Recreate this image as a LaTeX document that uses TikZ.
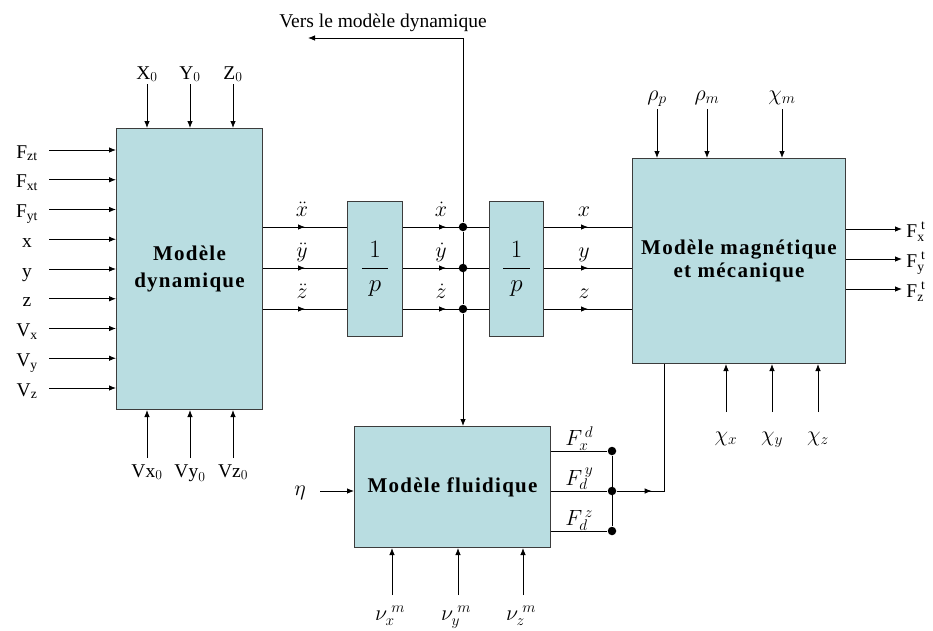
\RequirePackage{fix-cm}
\documentclass[tikz,border=0pt]{standalone}
\usepackage{fontspec}
\setmainfont{Liberation Serif}
\usetikzlibrary{arrows.meta,decorations.markings,positioning}

\definecolor{blocfill}{RGB}{185,221,225}
\definecolor{blocdraw}{RGB}{60,60,60}

\tikzset{
    bloc/.style={draw=blocdraw, fill=blocfill, line width=1pt, anchor=north west,
        inner sep=0pt, align=center,
        font=\fontsize{21}{27}\selectfont\bfseries\addfontfeature{LetterSpace=6}},
    mlbl/.style={anchor=base, font=\fontsize{22}{26}\selectfont},
    sig/.style={-{Latex[length=7pt,width=5.5pt]}},
    midsig/.style={postaction={decorate}, decoration={markings,
        mark=at position #1 with {\arrow{Latex[length=7pt,width=5.5pt]}}}},
    jdot/.style={circle, fill, inner sep=0pt, minimum size=8.5pt},
}

\begin{document}
\begin{tikzpicture}[x=1pt, y=-1pt, line width=0.8pt,
        every node/.style={font=\fontsize{19.5}{23}\selectfont}]
    % Parameters
    \def\ystep{29.75}
    \def\xjunc{463}

    \useasboundingbox (0,0) rectangle (933,630);

    % Blocks
    \node[bloc, minimum width=146, minimum height=281] (dyn) at (116,128) {Modèle\\ dynamique};
    \node[bloc, minimum width=55, minimum height=135] (int1) at (347,201)
        {\fontsize{25}{28}\selectfont\mdseries$\displaystyle\frac{\;1\;}{\;p\;}$};
    \node[bloc, minimum width=54, minimum height=135] (int2) at (489,201)
        {\fontsize{25}{28}\selectfont\mdseries$\displaystyle\frac{\;1\;}{\;p\;}$};
    \node[bloc, minimum width=213, minimum height=205,
        font=\fontsize{21}{23}\selectfont\bfseries\addfontfeature{LetterSpace=6}] (mag) at (632,158)
        {Modèle magnétique\\ et mécanique};
    \node[bloc, minimum width=196, minimum height=121] (flu) at (354,426) {Modèle fluidique};

    % Inputs on the left of the dynamic model
    \foreach \lab [count=\i] in {{\mathrm{F}_{\mathrm{zt}}}, {\mathrm{F}_{\mathrm{xt}}}, {\mathrm{F}_{\mathrm{yt}}},
            {\mathrm{x}}, {\mathrm{y}}, {\mathrm{z}},
            {\mathrm{V}_{\mathrm{x}}}, {\mathrm{V}_{\mathrm{y}}}, {\mathrm{V}_{\mathrm{z}}}} {
            \pgfmathsetmacro{\yin}{150+(\i-1)*\ystep}
            \coordinate (inD\i) at (49,\yin);
            \node[anchor=base] (labD\i) at (27,\yin+8) {$\lab$};
            \draw[sig] (inD\i) -- (inD\i -| dyn.west);
        }

    % Initial positions and speeds
    \foreach \lab/\labv/\xin [count=\i] in {X/Vx/147, Y/Vy/190, Z/Vz/233} {
            \coordinate (topD\i) at (\xin,84);
            \node[anchor=base] (labT\i) at (\xin,79) {$\mathrm{\lab}_0$};
            \draw[sig] (topD\i) -- (topD\i |- dyn.north);
            \coordinate (botD\i) at (\xin,458);
            \node[anchor=base] (labB\i) at (\xin,477) {$\mathrm{\labv}_0$};
            \draw[sig] (botD\i) -- (botD\i |- dyn.south);
        }

    % Integration chain
    \foreach \r/\y/\acc/\vel/\pos in {x/227/\ddot{x}/\dot{x}/x, y/268/\ddot{y}/\dot{y}/y, z/309/\ddot{z}/\dot{z}/z} {
            \node[jdot] (j\r) at (\xjunc,\y) {};
            \draw[midsig=0.5] (dyn.east |- j\r) -- (int1.west |- j\r);
            \node[mlbl] (acc\r) at (302,\y-11) {$\acc$};
            \draw[midsig=0.5] (int1.east |- j\r) -- (int2.west |- j\r);
            \node[mlbl] (vel\r) at (441,\y-11) {$\vel$};
            \draw[midsig=0.5] (int2.east |- j\r) -- (mag.west |- j\r);
            \node[mlbl] (pos\r) at (584,\y-11) {$\pos$};
        }

    % Speeds back to the dynamic model and to the fluid model
    \coordinate (vers) at (308,38);
    \node[anchor=base] (verslab) at (383,27) {Vers le modèle dynamique};
    \draw[sig] (jx) |- (vers);
    \draw (jx) -- (jz);
    \draw[sig] (jz) -- (jz |- flu.north);

    % Parameters of the magnetic model
    \foreach \lab/\xin [count=\i] in {{\rho_p}/657, {\rho_m}/707, {\chi_m}/782} {
            \coordinate (topM\i) at (\xin,109);
            \node[mlbl] (labMT\i) at (\xin,100) {$\lab$};
            \draw[sig] (topM\i) -- (topM\i |- mag.north);
        }
    \foreach \lab/\xin [count=\i] in {{\chi_x}/726, {\chi_y}/772, {\chi_z}/818} {
            \coordinate (botM\i) at (\xin,412);
            \node[mlbl] (labMB\i) at (\xin,441) {$\lab$};
            \draw[sig] (botM\i) -- (botM\i |- mag.south);
        }

    % Total forces
    \foreach \lab/\y [count=\i] in {x/229, y/259, z/289} {
            \coordinate (outM\i) at (902,\y);
            \draw[sig] (mag.east |- outM\i) -- (outM\i);
            \node[anchor=base west, inner sep=1pt] (labF\i) at (905,\y+8) {$\mathrm{F}_{\mathrm{\lab}}^{\;\mathrm{t}}$};
        }

    % Fluid model
    \coordinate (eta) at (320,491);
    \node[mlbl] (labeta) at (300,495) {$\eta$};
    \draw[sig] (eta) -- (eta -| flu.west);
    \foreach \lab/\xin [count=\i] in {x/392, y/458, z/523} {
            \coordinate (botF\i) at (\xin,595);
            \node[mlbl] (labnu\i) at (\xin-2,620) {$\nu_{\lab}^{\;m}$};
            \draw[sig] (botF\i) -- (botF\i |- flu.south);
        }

    % Drag forces
    \foreach \lab/\y [count=\i] in {{F_x^{\,d}}/451, {F_d^{\,y}}/491, {F_d^{\,z}}/531} {
            \node[jdot] (jF\i) at (612,\y) {};
            \draw (flu.east |- jF\i) -- (jF\i);
            \node[mlbl, anchor=base west, inner sep=1pt] (labFd\i) at (564,\y-6) {$\lab$};
        }
    \draw (jF1) -- (jF3);
    \coordinate (corner) at (664,491);
    \draw[midsig=35pt] (jF2) -- (corner) -- (corner |- mag.south);
\end{tikzpicture}
\end{document}
